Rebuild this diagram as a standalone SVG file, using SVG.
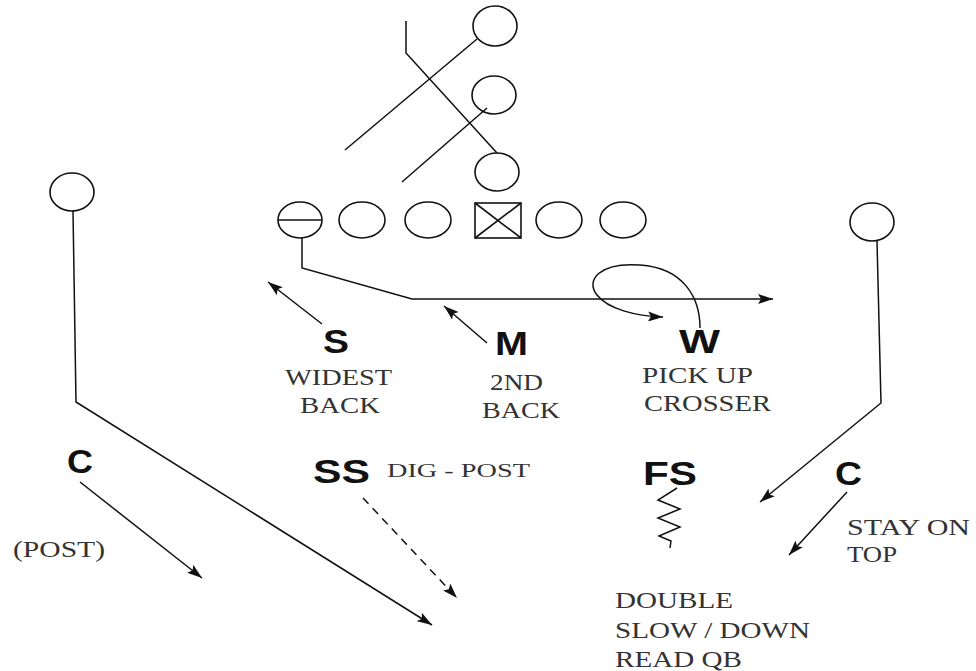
<svg xmlns="http://www.w3.org/2000/svg" width="976" height="671" viewBox="0 0 976 671">
<style>
.p{fill:none;stroke:#111;stroke-width:1.6}
.ln{fill:none;stroke:#111;stroke-width:1.5}
.arr{fill:none;stroke:#111;stroke-width:1.5;marker-end:url(#ah)}
.b{font-family:"Liberation Sans",Arial,sans-serif;font-weight:bold;font-size:33px;fill:#111}
.t{font-family:"Liberation Serif","Times New Roman",serif;font-size:24px;fill:#333}
</style>
<defs>
<marker id="ah" markerUnits="userSpaceOnUse" markerWidth="16" markerHeight="10" refX="15" refY="5" orient="auto">
<path d="M0,0 L15,5 L0,10 L3,5 z" fill="#111"/>
</marker>
</defs>
<rect width="976" height="671" fill="#fff"/>

<g id="connectors">
<polyline class="ln" points="406,21 406,53 497,153"/>
<line class="ln" x1="477" y1="39" x2="345" y2="150"/>
<line class="ln" x1="487" y1="108" x2="402" y2="182"/>
<polyline class="arr" points="302,238 302,268 412,299 773,299"/>
<polyline class="arr" points="73,210 76,402 432,625"/>
<polyline class="arr" points="877,241 881,403 760,502"/>
<line class="arr" x1="322" y1="324" x2="268" y2="282"/>
<line class="arr" x1="487" y1="343" x2="444" y2="306"/>
<path class="arr" d="M700,328 C700,298 684,268 640,265 C600,262 585,280 597,295 C608,309 635,316 663,317"/>
<line class="arr" x1="80" y1="482" x2="202" y2="578"/>
<line class="arr" x1="363" y1="498" x2="457" y2="598" stroke-dasharray="8,6"/>
<line class="arr" x1="847" y1="492" x2="789" y2="555"/>
<polyline class="ln" points="677,488 658,500 680,509 658,518 680,527 659,536 671,541 670,548"/>
</g>

<g id="back1"><ellipse class="p" cx="495" cy="26" rx="22" ry="20"/></g>
<g id="back2"><ellipse class="p" cx="494" cy="95" rx="22" ry="19"/></g>
<g id="back3"><ellipse class="p" cx="497" cy="172" rx="22" ry="19"/></g>

<g id="te"><ellipse class="p" cx="300" cy="220" rx="22" ry="18"/><line class="p" x1="278" y1="220" x2="322" y2="220"/></g>
<g id="lt"><ellipse class="p" cx="362" cy="220" rx="23" ry="18"/></g>
<g id="lg"><ellipse class="p" cx="428" cy="220" rx="23" ry="18"/></g>
<g id="center"><rect class="p" x="475" y="203" width="46" height="35"/><line class="p" x1="475" y1="203" x2="521" y2="238"/><line class="p" x1="521" y1="203" x2="475" y2="238"/></g>
<g id="rg"><ellipse class="p" cx="559" cy="220" rx="23" ry="18"/></g>
<g id="rt"><ellipse class="p" cx="623" cy="220" rx="23" ry="18"/></g>

<g id="wr-left"><ellipse class="p" cx="72" cy="192" rx="22" ry="19"/></g>
<g id="wr-right"><ellipse class="p" cx="872" cy="222" rx="22" ry="19"/></g>

<g id="lb-s"><text class="b" x="323" y="353" textLength="26" lengthAdjust="spacingAndGlyphs">S</text>
<text class="t" x="285" y="385" textLength="107" lengthAdjust="spacingAndGlyphs">WIDEST</text>
<text class="t" x="300" y="413" textLength="80" lengthAdjust="spacingAndGlyphs">BACK</text></g>
<g id="lb-m"><text class="b" x="495" y="355" textLength="33" lengthAdjust="spacingAndGlyphs">M</text>
<text class="t" x="490" y="390" textLength="53" lengthAdjust="spacingAndGlyphs">2ND</text>
<text class="t" x="482" y="418" textLength="78" lengthAdjust="spacingAndGlyphs">BACK</text></g>
<g id="lb-w"><text class="b" x="679" y="353" textLength="41" lengthAdjust="spacingAndGlyphs">W</text>
<text class="t" x="642" y="383" textLength="111" lengthAdjust="spacingAndGlyphs">PICK UP</text>
<text class="t" x="644" y="411" textLength="127" lengthAdjust="spacingAndGlyphs">CROSSER</text></g>
<g id="lb-cl"><text class="b" x="67" y="473" textLength="26" lengthAdjust="spacingAndGlyphs">C</text>
<text class="t" x="13" y="557" textLength="92" lengthAdjust="spacingAndGlyphs">(POST)</text></g>
<g id="lb-ss"><text class="b" x="313" y="483" textLength="57" lengthAdjust="spacingAndGlyphs">SS</text>
<text class="t" x="387" y="477" textLength="143" lengthAdjust="spacingAndGlyphs" style="font-size:19px">DIG - POST</text></g>
<g id="lb-fs"><text class="b" x="643" y="485" textLength="54" lengthAdjust="spacingAndGlyphs">FS</text>
<text class="t" x="615" y="608" textLength="118" lengthAdjust="spacingAndGlyphs">DOUBLE</text>
<text class="t" x="615" y="638" textLength="195" lengthAdjust="spacingAndGlyphs">SLOW / DOWN</text>
<text class="t" x="615" y="667" textLength="127" lengthAdjust="spacingAndGlyphs">READ QB</text></g>
<g id="lb-cr"><text class="b" x="835" y="485" textLength="27" lengthAdjust="spacingAndGlyphs">C</text>
<text class="t" x="847" y="535" textLength="123" lengthAdjust="spacingAndGlyphs">STAY ON</text>
<text class="t" x="847" y="562" textLength="50" lengthAdjust="spacingAndGlyphs">TOP</text></g>
</svg>
